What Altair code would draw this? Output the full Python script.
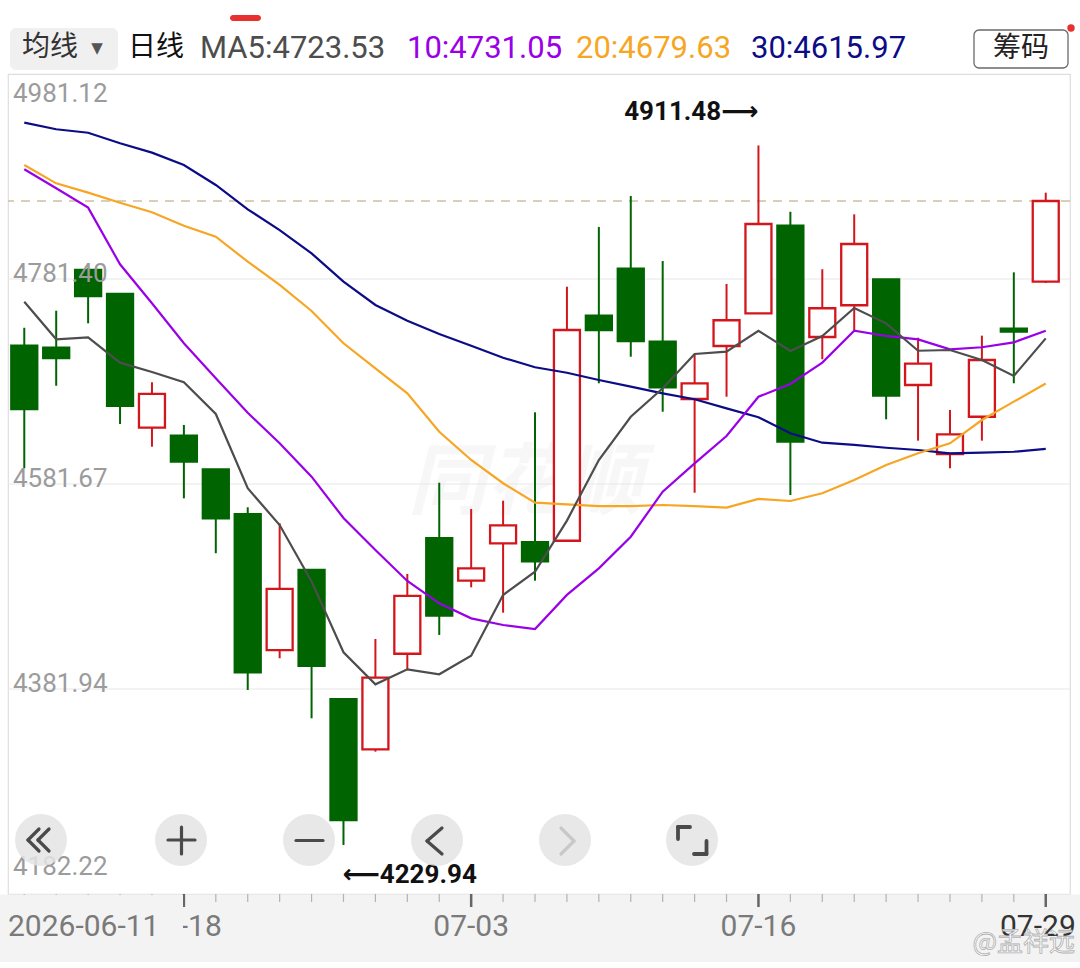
import altair as alt
import pandas as pd

# ---------------- data ----------------
dates = ["2026-06-11", "2026-06-12", "2026-06-15", "2026-06-16", "2026-06-17", "2026-06-18",
         "2026-06-22", "2026-06-23", "2026-06-24", "2026-06-25", "2026-06-26", "2026-06-29",
         "2026-06-30", "2026-07-02", "2026-07-03", "2026-07-06", "2026-07-07", "2026-07-08",
         "2026-07-09", "2026-07-10", "2026-07-13", "2026-07-14", "2026-07-15", "2026-07-16",
         "2026-07-17", "2026-07-20", "2026-07-21", "2026-07-22", "2026-07-23", "2026-07-24",
         "2026-07-27", "2026-07-28", "2026-07-29"]
open_ = [4716.4, 4714.5, 4790.2, 4766.8, 4636.5, 4628.7, 4596.0, 4552.4, 4419.9, 4497.9,
         4372.0, 4323.2, 4416.3, 4528.8, 4487.5, 4523.9, 4524.9, 4526.4, 4745.6, 4791.4,
         4720.3, 4664.5, 4716.1, 4748.0, 4833.3, 4724.9, 4755.8, 4781.0, 4678.1, 4610.9,
         4647.2, 4733.0, 4778.8]
high_ = [4733.9, 4750.5, 4792.1, 4767.8, 4680.8, 4639.2, 4596.3, 4559.0, 4543.4, 4498.5,
         4372.2, 4430.7, 4494.0, 4582.9, 4557.3, 4565.4, 4651.5, 4773.9, 4832.1, 4862.3,
         4798.9, 4707.4, 4776.5, 4911.48, 4847.0, 4790.9, 4844.4, 4781.4, 4724.2, 4653.8,
         4726.2, 4787.9, 4865.5]
low_ = [4597.0, 4677.4, 4738.2, 4640.1, 4618.0, 4567.7, 4514.2, 4381.0, 4411.9, 4353.4,
        4229.94, 4320.9, 4400.5, 4434.6, 4481.0, 4456.3, 4487.5, 4525.7, 4679.8, 4705.7,
        4652.1, 4573.2, 4666.7, 4747.5, 4571.0, 4703.2, 4731.7, 4644.7, 4623.9, 4597.0,
        4623.9, 4679.8, 4777.5]
close_ = [4654.7, 4704.4, 4764.8, 4657.7, 4669.4, 4603.4, 4548.3, 4398.2, 4479.4, 4404.6,
          4254.3, 4393.0, 4472.6, 4453.4, 4499.5, 4541.4, 4506.4, 4731.7, 4731.7, 4721.0,
          4675.9, 4679.8, 4741.2, 4835.0, 4622.9, 4752.9, 4815.5, 4667.7, 4698.9, 4630.1,
          4702.5, 4730.1, 4857.4]
ma5 = [4759.3, 4722.7, 4724.6, 4699.9, 4690.8, 4680.8, 4649.9, 4577.5, 4541.7, 4486.8,
       4417.7, 4386.5, 4401.1, 4396.3, 4414.4, 4473.5, 4496.2, 4546.0, 4605.0, 4647.2,
       4674.9, 4708.3, 4710.6, 4731.0, 4711.3, 4725.9, 4753.1, 4738.2, 4711.5, 4712.2,
       4702.5, 4686.9, 4723.53]
ma10 = [4888.3, 4869.8, 4850.9, 4795.7, 4757.7, 4718.8, 4684.7, 4651.1, 4621.3, 4588.8,
        4548.5, 4517.4, 4487.2, 4465.4, 4450.8, 4444.3, 4440.4, 4473.6, 4499.5, 4530.3,
        4574.2, 4601.8, 4628.4, 4666.7, 4679.1, 4699.9, 4731.0, 4725.9, 4722.6, 4712.9,
        4714.9, 4719.7, 4731.05]
ma20 = [4892.5, 4874.6, 4865.5, 4855.7, 4846.4, 4833.3, 4822.6, 4798.3, 4775.6, 4750.2,
        4718.8, 4694.4, 4670.0, 4632.6, 4605.1, 4582.4, 4563.5, 4561.9, 4560.2, 4560.2,
        4561.2, 4560.2, 4558.6, 4567.1, 4565.1, 4572.6, 4585.6, 4600.2, 4611.6, 4621.3,
        4644.0, 4661.9, 4679.63]
ma30 = [4933.7, 4927.3, 4923.9, 4913.6, 4904.5, 4892.5, 4873.0, 4849.3, 4829.1, 4806.4,
        4778.8, 4756.1, 4740.8, 4727.8, 4716.4, 4704.7, 4695.4, 4690.1, 4683.0, 4676.5,
        4670.0, 4664.2, 4655.4, 4646.7, 4631.1, 4621.9, 4619.7, 4617.0, 4614.8, 4611.6,
        4612.2, 4613.1, 4615.97]
y_tick_values = [4981.12, 4781.40, 4581.67, 4381.94, 4182.22]
x_label_idx = [5, 14, 23, 32]
ma_names = ["MA30", "MA20", "MA10", "MA5"]
ma_prefix = ["30:", "20:", "10:", "MA5:"]

# ---------------- styles ----------------
RED = "#d3161c"
GREEN = "#006400"
MA_COLORS = ["#0c0c86", "#f6a623", "#9a00e8", "#4d4d4d"]
NUM_FONT = "Roboto"
CJK_FONT = "Noto Sans CJK SC"
W, H = 1062, 820

n = len(dates)
df = pd.DataFrame({"idx": list(range(n)), "date": dates, "open": open_, "high": high_,
                   "low": low_, "close": close_})
df["dir"] = ["up" if c >= o else "down" for o, c in zip(open_, close_)]

XS = alt.Scale(domain=[-0.51, n - 1 + 0.76], nice=False, zero=False, padding=0)
YS = alt.Scale(domain=[y_tick_values[-1], y_tick_values[0]], nice=False, zero=False, padding=0)
X = alt.X("idx:Q", scale=XS, axis=None)
dir_stroke = alt.Stroke("dir:N", scale=alt.Scale(domain=["up", "down"], range=[RED, GREEN]), legend=None)
dir_fill = alt.Fill("dir:N", scale=alt.Scale(domain=["up", "down"], range=["#ffffff", GREEN]), legend=None)
one = pd.DataFrame({"k": [0]})

layers = []

# watermark
layers.append(alt.Chart(one).mark_text(text="同花顺", font=CJK_FONT, fontSize=78, fontStyle="italic",
                                       fontWeight="bold", color="#000000", opacity=0.028,
                                       align="center", baseline="middle")
              .encode(x=alt.value(517), y=alt.value(411)))

# grid
layers.append(alt.Chart(pd.DataFrame({"v": y_tick_values[1:-1]}))
              .mark_rule(color="#e8e8e8", strokeWidth=1.2)
              .encode(y=alt.Y("v:Q", scale=YS, axis=None)))

# last price dashed line
layers.append(alt.Chart(pd.DataFrame({"v": [close_[-1]]}))
              .mark_rule(strokeDash=[9, 7], color="#cdbf9f", strokeWidth=1.4)
              .encode(y=alt.Y("v:Q", scale=YS, axis=None)))

# candles
base = alt.Chart(df)
layers.append(base.mark_rule(strokeWidth=2).encode(
    x=X, y=alt.Y("low:Q", scale=YS, axis=None), y2="high:Q", stroke=dir_stroke))
layers.append(base.mark_bar(width=26, strokeWidth=2.3).encode(
    x=X, y=alt.Y("open:Q", scale=YS, axis=None), y2="close:Q", fill=dir_fill, stroke=dir_stroke))

# moving averages
ma_vals = [ma30, ma20, ma10, ma5]
ma_df = pd.concat([pd.DataFrame({"idx": list(range(n)), "val": v, "series": nm})
                   for nm, v in zip(ma_names, ma_vals)], ignore_index=True)
layers.append(alt.Chart(ma_df).mark_line(strokeWidth=2.2).encode(
    x=X, y=alt.Y("val:Q", scale=YS, axis=None),
    color=alt.Color("series:N", scale=alt.Scale(domain=ma_names, range=MA_COLORS), legend=None),
    detail="series:N"))

# y labels (inside the plot)
lab_df = pd.DataFrame({"v": y_tick_values, "t": [f"{v:.2f}" for v in y_tick_values]})
ylab_style = dict(align="left", font=NUM_FONT, fontSize=26, color="#9b9b9b")
layers.append(alt.Chart(lab_df.iloc[:1]).mark_text(baseline="top", dy=7, **ylab_style)
              .encode(x=alt.value(5), y=alt.Y("v:Q", scale=YS, axis=None), text="t:N"))
layers.append(alt.Chart(lab_df.iloc[1:-1]).mark_text(baseline="alphabetic", dy=3, **ylab_style)
              .encode(x=alt.value(5), y=alt.Y("v:Q", scale=YS, axis=None), text="t:N"))
layers.append(alt.Chart(lab_df.iloc[-1:]).mark_text(baseline="alphabetic", dy=-19, **ylab_style)
              .encode(x=alt.value(5), y=alt.Y("v:Q", scale=YS, axis=None), text="t:N"))

# high / low annotations
ANN_FONT = "Roboto, 'DejaVu Sans'"
hi_i = max(range(n), key=lambda i: high_[i])
lo_i = min(range(n), key=lambda i: low_[i])
layers.append(alt.Chart(pd.DataFrame({"idx": [hi_i], "v": [high_[hi_i]], "t": [f"{high_[hi_i]:.2f}⟶"]}))
              .mark_text(align="right", baseline="middle", dy=-33, dx=0, font=ANN_FONT,
                         fontSize=26, fontWeight="bold", color="#111111")
              .encode(x=X, y=alt.Y("v:Q", scale=YS, axis=None), text="t:N"))
layers.append(alt.Chart(pd.DataFrame({"idx": [lo_i], "v": [low_[lo_i]], "t": [f"⟵{low_[lo_i]:.2f}"]}))
              .mark_text(align="left", baseline="middle", dy=30, dx=-1, font=ANN_FONT,
                         fontSize=26, fontWeight="bold", color="#111111")
              .encode(x=X, y=alt.Y("v:Q", scale=YS, axis=None), text="t:N"))

# round buttons
btn_x = [33, 173, 301, 429, 557, 684]
for bx in btn_x:
    layers.append(alt.Chart(one).mark_circle(size=2700, color="#e4e4e4", opacity=0.85)
                  .encode(x=alt.value(bx), y=alt.value(766)))

def seg(x1, y1, x2, y2, color="#4a4a4a", w=3.2):
    return (alt.Chart(one).mark_rule(color=color, strokeWidth=w, strokeCap="round")
            .encode(x=alt.value(x1), y=alt.value(y1), x2=alt.value(x2), y2=alt.value(y2)))

# «
for tip in (20, 30):
    layers.append(seg(tip, 766, tip + 11, 755))
    layers.append(seg(tip, 766, tip + 11, 777))
# +
layers.append(seg(160, 766, 187, 766))
layers.append(seg(173.5, 753, 173.5, 780))
# −
layers.append(seg(288, 766.5, 315, 766.5))
# <
layers.append(seg(419, 767, 434, 754))
layers.append(seg(419, 767, 434, 780))
# >
layers.append(seg(566, 767, 553, 754, color="#c8c8c8"))
layers.append(seg(566, 767, 553, 780, color="#c8c8c8"))
# expand corners
layers.append(seg(670, 753, 670, 765, w=3.8))
layers.append(seg(670, 753, 682, 753, w=3.8))
layers.append(seg(698.5, 767, 698.5, 780, w=3.8))
layers.append(seg(686, 780, 698.5, 780, w=3.8))

# bottom axis band and ticks
layers.append(alt.Chart(one).mark_rect(color="#f3f3f3")
              .encode(x=alt.value(-8), x2=alt.value(1072), y=alt.value(820.5), y2=alt.value(888)))
ticks_df = pd.DataFrame({"idx": list(range(n)), "major": [i in x_label_idx for i in range(n)]})
layers.append(alt.Chart(ticks_df[~ticks_df["major"]]).mark_rule(color="#b3b3b3", strokeWidth=1.2)
              .encode(x=X, y=alt.value(820), y2=alt.value(828)))
layers.append(alt.Chart(ticks_df[ticks_df["major"]]).mark_rule(color="#666666", strokeWidth=2.5)
              .encode(x=X, y=alt.value(820), y2=alt.value(833)))
xl_df = pd.DataFrame({"idx": x_label_idx, "t": [dates[i][5:] for i in x_label_idx]})
layers.append(alt.Chart(xl_df.iloc[:-1]).mark_text(align="center", baseline="middle", font=NUM_FONT,
                                                  fontSize=30, color="#7a7a7a")
              .encode(x=X, y=alt.value(853), text="t:N"))
layers.append(alt.Chart(xl_df.iloc[-1:]).mark_text(align="right", baseline="middle", font=NUM_FONT,
                                                  fontSize=30, color="#333333", dx=30)
              .encode(x=X, y=alt.value(853), text="t:N"))
layers.append(alt.Chart(one).mark_rect(color="#f3f3f3")
              .encode(x=alt.value(-8), x2=alt.value(175), y=alt.value(821), y2=alt.value(888)))
layers.append(alt.Chart(one).mark_text(text=dates[0], align="left", baseline="middle", font=NUM_FONT,
                                       fontSize=30, color="#7a7a7a")
              .encode(x=alt.value(0), y=alt.value(853)))
layers.append(alt.Chart(one).mark_text(text="@孟祥远", align="right", baseline="middle", font=CJK_FONT,
                                       fontSize=26, color="#ffffff", stroke="#b0b0b0", strokeWidth=0.8)
              .encode(x=alt.value(1067), y=alt.value(869)))

# header
layers.append(alt.Chart(one).mark_rect(color="#f0f0f0", cornerRadius=6)
              .encode(x=alt.value(2), x2=alt.value(110), y=alt.value(-46), y2=alt.value(-4)))
layers.append(alt.Chart(one).mark_text(text="均线", align="left", baseline="middle", font=CJK_FONT,
                                       fontSize=28, color="#333333")
              .encode(x=alt.value(14), y=alt.value(-26)))
layers.append(alt.Chart(one).mark_text(text="▼", align="center", baseline="middle", font="DejaVu Sans",
                                       fontSize=15, color="#555555")
              .encode(x=alt.value(89), y=alt.value(-26)))
layers.append(alt.Chart(one).mark_text(text="日线", align="left", baseline="middle", font=CJK_FONT,
                                       fontSize=28, color="#111111")
              .encode(x=alt.value(120), y=alt.value(-26)))
head_x = [743, 568, 399, 192]
for hx, pre, vals, col in zip(head_x, ma_prefix, ma_vals, MA_COLORS):
    layers.append(alt.Chart(one).mark_text(text=f"{pre}{vals[-1]:.2f}", align="left", baseline="middle",
                                           font=NUM_FONT, fontSize=31, color=col)
                  .encode(x=alt.value(hx), y=alt.value(-25)))
layers.append(alt.Chart(one).mark_rect(fill="#ffffff", stroke="#6a6a6a", strokeWidth=1.3, cornerRadius=5)
              .encode(x=alt.value(966), x2=alt.value(1060), y=alt.value(-44), y2=alt.value(-6)))
layers.append(alt.Chart(one).mark_text(text="筹码", align="center", baseline="middle", font=CJK_FONT,
                                       fontSize=28, color="#222222")
              .encode(x=alt.value(1013), y=alt.value(-25)))
layers.append(alt.Chart(one).mark_circle(size=55, color="#e8312f", opacity=1)
              .encode(x=alt.value(1063), y=alt.value(-46)))
layers.append(alt.Chart(one).mark_rect(color="#e8312f", cornerRadius=3)
              .encode(x=alt.value(222), x2=alt.value(253), y=alt.value(-59), y2=alt.value(-53)))

chart = (alt.layer(*layers)
         .properties(width=W, height=H, autosize="none",
                     padding={"left": 8, "top": 74, "right": 10, "bottom": 74},
                     background="#ffffff")
         .configure_view(stroke="#dedede", strokeWidth=1.2))

chart.save("out.html", embed_options={"renderer": "svg", "actions": False})
